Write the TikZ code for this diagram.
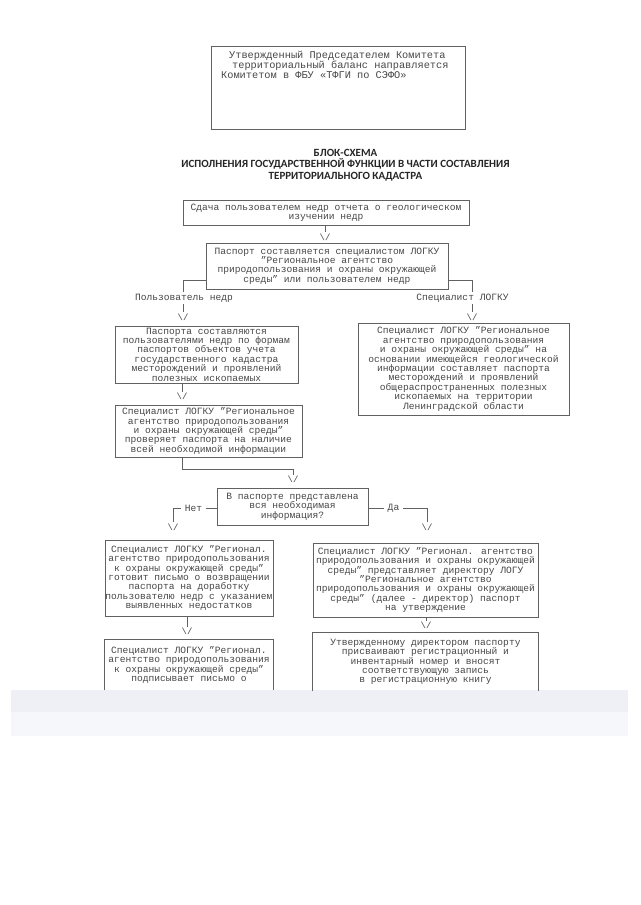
\documentclass[tikz,border=0pt]{standalone}
\usepackage{fontspec}
\setmainfont{Liberation Mono}
\newfontfamily\titlefont{Carlito}
\usetikzlibrary{calc}
\definecolor{ink}{gray}{0.28}
\definecolor{rulec}{gray}{0.38}
\definecolor{band}{RGB}{238,240,245}
\definecolor{bandlight}{RGB}{246,247,250}
\begin{document}
\begin{tikzpicture}[x=1pt,y=-1pt,
  box/.style={draw=rulec, line width=0.7pt, inner sep=0pt, align=center, text=ink,
    font=\fontsize{9.6}{9.4}\selectfont},
  ghost/.style={inner sep=0pt, align=center, text=ink, font=\fontsize{9.6}{9.4}\selectfont},
  lbl/.style={inner ysep=0pt, inner xsep=4pt, text=ink, font=\fontsize{9.6}{9.4}\selectfont},
  vee/.style={inner sep=0pt, text=ink, font=\fontsize{9}{9}\selectfont},
  conn/.style={draw=rulec, line width=0.7pt},
]
\useasboundingbox (0,0) rectangle (640,905);
\fill[white] (0,0) rectangle (640,905);
\fill[bandlight] (11,690) rectangle (628,736);
\fill[band] (11,690) rectangle (628,712);

% top box
\node[box, minimum width=254, minimum height=83] (top) at (338,87.5) {};
\node[ghost, anchor=north west, align=left, font=\fontsize{10.3}{10}\selectfont] (toptext) at (221,51)
 {\hspace*{8pt}Утвержденный Председателем Комитета\\
  \hspace*{11pt}территориальный баланс направляется\\
  Комитетом в ФБУ «ТФГИ по СЭФО»};

% title
\node[text=black!85, font=\titlefont\bfseries\fontsize{11}{11.5}\selectfont, align=center, inner sep=0pt] (title) at (345.5,165)
 {БЛОК-СХЕМА\\ИСПОЛНЕНИЯ ГОСУДАРСТВЕННОЙ ФУНКЦИИ В ЧАСТИ СОСТАВЛЕНИЯ\\ТЕРРИТОРИАЛЬНОГО КАДАСТРА};

% A
\node[box, minimum width=286, minimum height=25] (A) at (326,212.5)
 {Сдача пользователем недр отчета о геологическом\\изучении недр};
\node[vee] (vAB) at (325,237) {\textbackslash/};
\draw[conn] (A.south -| vAB) -- ([yshift=1pt]vAB.north);

% B
\node[box, minimum width=242, minimum height=46] (B) at (327,266)
 {Паспорт составляется специалистом ЛОГКУ\\"Региональное агентство\\природопользования и охраны окружающей\\среды" или пользователем недр};

\node[lbl] (lblU) at (184,298) {Пользователь недр};
\node[lbl] (lblS) at (462.5,298) {Специалист ЛОГКУ};
\node[vee] (vBC) at (183,317) {\textbackslash/};
\node[vee] (vBE) at (472,317) {\textbackslash/};
\coordinate (kU) at (183,292);
\coordinate (kS) at (472,292);
\draw[conn] ($(B.south west)+(0,-9)$) -| (kU);
\draw[conn] ($(B.south east)+(0,-9)$) -| (kS);
\draw[conn, shorten <=2pt] (lblU.south -| vBC) -- ([yshift=1pt]vBC.north);
\draw[conn, shorten <=2pt] (lblS.south -| vBE) -- ([yshift=1pt]vBE.north);

% C
\node[box, minimum width=183, minimum height=57] (C) at (206.5,354.5)
 {Паспорта составляются\\пользователями недр по формам\\паспортов объектов учета\\государственного кадастра\\месторождений и проявлений\\полезных ископаемых};
\node[vee] (vCD) at (182,396) {\textbackslash/};
\draw[conn] (C.south -| vCD) -- ([yshift=1pt]vCD.north);

% D
\node[box, minimum width=187, minimum height=52] (D) at (208.5,431)
 {Специалист ЛОГКУ "Региональное\\агентство природопользования\\и охраны окружающей среды"\\проверяет паспорта на наличие\\всей необходимой информации};

% E
\node[box, minimum width=211, minimum height=92] (E) at (463.5,369)
 {Специалист ЛОГКУ "Региональное\\агентство природопользования\\и охраны окружающей среды" на\\основании имеющейся геологической\\информации составляет паспорта\\месторождений и проявлений\\общераспространенных полезных\\ископаемых на территории\\Ленинградской области};

% F decision
\node[box, minimum width=151, minimum height=37] (F) at (292.5,506.5)
 {В паспорте представлена\\вся необходимая\\информация?};
\coordinate (kDF) at (293,469);
\node[vee] (vDF) at (293,479) {\textbackslash/};
\draw[conn] (D.south -| vCD) |- (kDF) -- ([yshift=1pt]vDF.north);

\node[lbl] (lblN) at (193.5,508.5) {Нет};
\node[lbl] (lblD) at (393.5,508.5) {Да};
\node[vee] (vFG) at (173,527) {\textbackslash/};
\node[vee] (vFH) at (427,527) {\textbackslash/};
\draw[conn] (F.west |- lblN.west) -- (lblN.east);
\draw[conn] (lblN.west) -| ([yshift=2pt]vFG.north);
\draw[conn] (F.east |- lblD.east) -- (lblD.west);
\draw[conn] (lblD.east) -| ([yshift=2pt]vFH.north);

% G
\node[box, minimum width=168, minimum height=76] (G) at (189,578)
 {Специалист ЛОГКУ "Регионал.\\агентство природопользования\\к охраны окружающей среды"\\готовит письмо о возвращении\\паспорта на доработку\\пользователю недр с указанием\\выявленных недостатков};

% H
\node[box, minimum width=225, minimum height=74] (H) at (425.5,580)
 {Специалист ЛОГКУ "Регионал. агентство\\природопользования и охраны окружающей\\среды" представляет директору ЛОГУ\\"Региональное агентство\\природопользования и охраны окружающей\\среды" (далее - директор) паспорт\\на утверждение};

% I (cut off)
\node[ghost, minimum width=168, minimum height=50] (I) at (189,665)
 {Специалист ЛОГКУ "Регионал.\\агентство природопользования\\к охраны окружающей среды"\\подписывает письмо о};
\draw[conn] (I.south west) -- (I.north west) -- (I.north east) -- (I.south east);

% J (cut off)
\node[ghost, minimum width=225, minimum height=58] (J) at (425.5,662)
 {Утвержденному директором паспорту\\присваивают регистрационный и\\инвентарный номер и вносят\\соответствующую запись\\в регистрационную книгу};
\draw[conn] (J.south west) -- (J.north west) -- (J.north east) -- (J.south east);

\node[vee] (vGI) at (187,631) {\textbackslash/};
\draw[conn] (G.south -| vGI) -- ([yshift=1pt]vGI.north);
\node[vee] (vHJ) at (426,625) {\textbackslash/};
\draw[conn] (H.south -| vHJ) -- ([yshift=1pt]vHJ.north);

\end{tikzpicture}
\end{document}
